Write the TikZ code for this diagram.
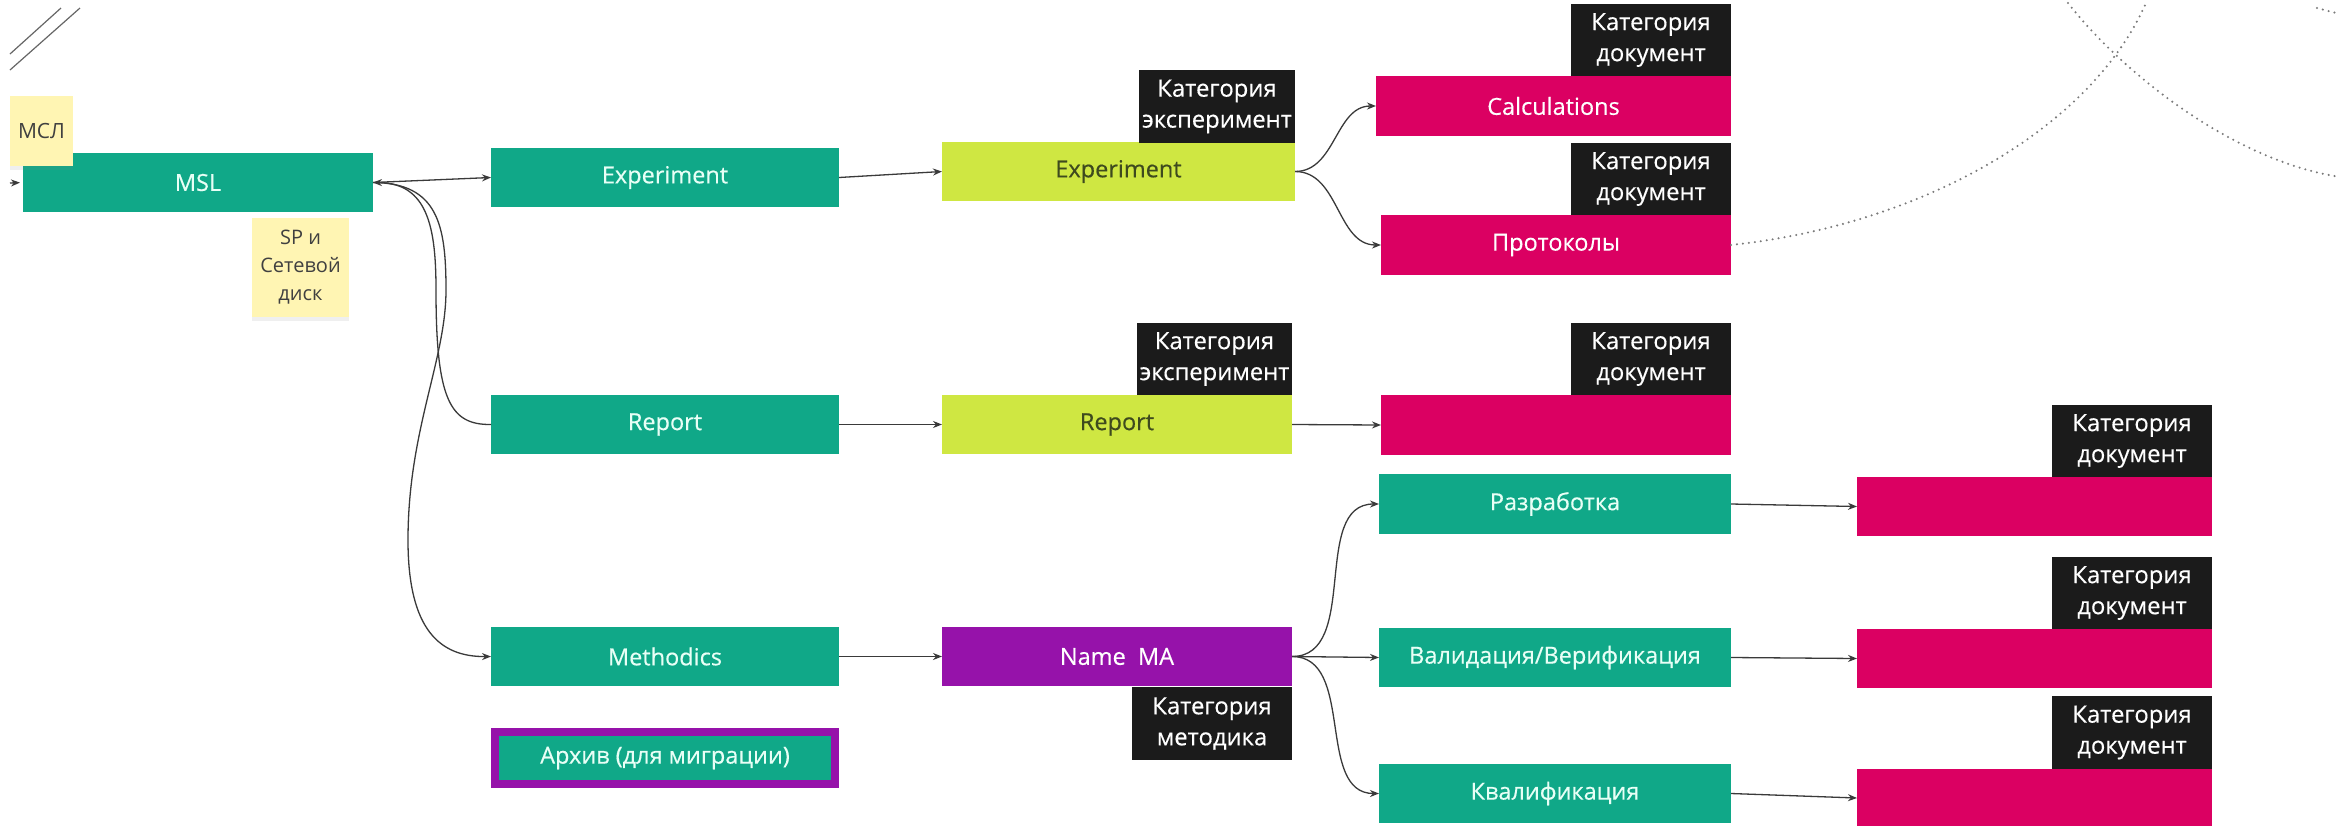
\documentclass[tikz,border=0pt]{standalone}
\usepackage{fontspec}
\setmainfont{Open Sans}
\usetikzlibrary{arrows.meta,shadows}
\definecolor{cgreen}{HTML}{10A888}
\definecolor{clime}{HTML}{CFE742}
\definecolor{cmag}{HTML}{DB0062}
\definecolor{cpurp}{HTML}{9612AA}
\definecolor{cblack}{HTML}{1B1B1B}
\definecolor{csticky}{HTML}{FFF5B3}
\definecolor{cline}{HTML}{3A3A3A}
\definecolor{cdots}{HTML}{7A7A7A}
\definecolor{cmint}{HTML}{E8FFF6}
\definecolor{colive}{HTML}{3E4A1E}
\newcommand{\myfs}[2]{\fontsize{#1pt}{#2pt}\selectfont}
\newcommand{\myheavy}{\addfontfeature{FakeBold=0.4}}
\tikzset{
  box/.style={rectangle, inner sep=0pt, outer sep=0pt, anchor=north west, font=\myfs{23.5}{28}\myheavy},
  grn/.style={box, fill=cgreen, text=cmint},
  lim/.style={box, fill=clime, text=colive},
  mag/.style={box, fill=cmag, text=white},
  pur/.style={box, fill=cpurp, text=white},
  cat/.style={box, fill=cblack, text=white, align=center, font=\myfs{23.8}{31}\myheavy},
  sticky/.style={box, fill=csticky, text=black!75, align=center, font=\myfs{20}{28},
     drop shadow={shadow xshift=0pt, shadow yshift=-4pt, opacity=0.12}},
  conn/.style={draw=cline, line width=1.3pt, -{Stealth[length=9pt,width=7pt]}},
  dots/.style={draw=cdots, line width=2.3pt, line cap=round, dash pattern=on 0pt off 6pt},
  dline/.style={draw=black!60, line width=1.2pt}
}
\begin{document}
\begin{tikzpicture}[x=1pt,y=-1pt]
\useasboundingbox (0,0) rectangle (2348,825);
\fill[white] (0,0) rectangle (2348,825);

% decorative lines top-left
\draw[dline] (10,54) -- (61,8);
\draw[dline] (10,70) -- (80,8);

% column 0
\node[grn, minimum width=350pt, minimum height=59pt] (msl) at (23,153) {MSL};
\node[sticky, minimum width=63pt, minimum height=70pt] (mslnote) at (10,96) {\myfs{21}{28}МСЛ};
\node[sticky, minimum width=97pt, minimum height=99pt] (spnote) at (252,218) {SP и\\Сетевой\\диск};
\coordinate (lin) at (10,183);

% column 1
\node[grn, minimum width=348pt, minimum height=59pt] (exp) at (491,148) {Experiment};
\node[grn, minimum width=348pt, minimum height=59pt] (rep) at (491,395) {Report};
\node[grn, minimum width=348pt, minimum height=59pt] (meth) at (491,627) {Methodics};
\node[grn, draw=cpurp, line width=8pt, minimum width=340pt, minimum height=52pt] (arch) at (495,732) {Архив (для миграции)};

% column 2
\node[lim, minimum width=353pt, minimum height=59pt] (lexp) at (942,142) {Experiment};
\node[cat, minimum width=156pt, minimum height=73pt] (cexp1) at (1139,70) {Категория\\эксперимент};
\node[lim, minimum width=350pt, minimum height=59pt] (lrep) at (942,395) {Report};
\node[cat, minimum width=155pt, minimum height=72pt] (cexp2) at (1137,323) {Категория\\эксперимент};
\node[pur, minimum width=350pt, minimum height=59pt] (nma) at (942,627) {Name~ MA};
\node[cat, minimum width=160pt, minimum height=73pt] (cmet) at (1132,687) {Категория\\методика};

% column 3
\node[mag, minimum width=355pt, minimum height=60pt] (calc) at (1376,76) {Calculations};
\node[cat, minimum width=160pt, minimum height=72pt] (cd1) at (1571,4) {Категория\\документ};
\node[mag, minimum width=350pt, minimum height=60pt] (prot) at (1381,215) {Протоколы};
\node[cat, minimum width=160pt, minimum height=72pt] (cd2) at (1571,143) {Категория\\документ};
\node[mag, minimum width=350pt, minimum height=60pt] (mrep) at (1381,395) {};
\node[cat, minimum width=160pt, minimum height=72pt] (cd3) at (1571,323) {Категория\\документ};
\node[grn, minimum width=352pt, minimum height=60pt] (razr) at (1379,474) {Разработка};
\node[grn, minimum width=352pt, minimum height=59pt] (val) at (1379,628) {Валидация/Верификация};
\node[grn, minimum width=352pt, minimum height=59pt] (kval) at (1379,764) {Квалификация};

% column 4
\node[mag, minimum width=355pt, minimum height=59pt] (m1) at (1857,477) {};
\node[cat, minimum width=160pt, minimum height=72pt] (cd4) at (2052,405) {Категория\\документ};
\node[mag, minimum width=355pt, minimum height=59pt] (m2) at (1857,629) {};
\node[cat, minimum width=160pt, minimum height=72pt] (cd5) at (2052,557) {Категория\\документ};
\node[mag, minimum width=355pt, minimum height=58pt] (m3) at (1857,769) {};
\node[cat, minimum width=160pt, minimum height=73pt] (cd6) at (2052,696) {Категория\\документ};

% connectors
\draw[conn, shorten >=3pt] (lin) -- (msl.west);
\draw[conn] (msl.east) -- (exp.west);
\draw[conn, {Stealth[length=9pt,width=7pt]}-] (msl.east) .. controls (428,183) and (436,228) .. (436,290)
   .. controls (436,400) and (450,425) .. (rep.west);
\draw[conn] (msl.east) .. controls (438,183) and (446,225) .. (446,290)
   .. controls (446,360) and (408,430) .. (408,540)
   .. controls (408,630) and (440,657) .. (meth.west);
\draw[conn] (exp.east) -- (lexp.west);
\draw[conn] (rep.east) -- (lrep.west);
\draw[conn] (meth.east) -- (nma.west);
\draw[conn] (lexp.east) to[out=0,in=180] (calc.west);
\draw[conn] (lexp.east) to[out=0,in=180] (prot.west);
\draw[conn] (lrep.east) -- (mrep.west);
\draw[conn] (nma.east) to[out=0,in=180] (razr.west);
\draw[conn] (nma.east) -- (val.west);
\draw[conn] (nma.east) to[out=0,in=180] (kval.west);
\draw[conn] (razr.east) -- (m1.west);
\draw[conn] (val.east) -- (m2.west);
\draw[conn] (kval.east) -- (m3.west);

% dotted arcs
\draw[dots] (prot.east) .. controls (1920,225) and (2090,130) .. (2146,3);
\draw[dots] (2068,3) .. controls (2120,70) and (2230,160) .. (2340,177);
\draw[dots] (2317,8) -- (2336,13);
\end{tikzpicture}
\end{document}
